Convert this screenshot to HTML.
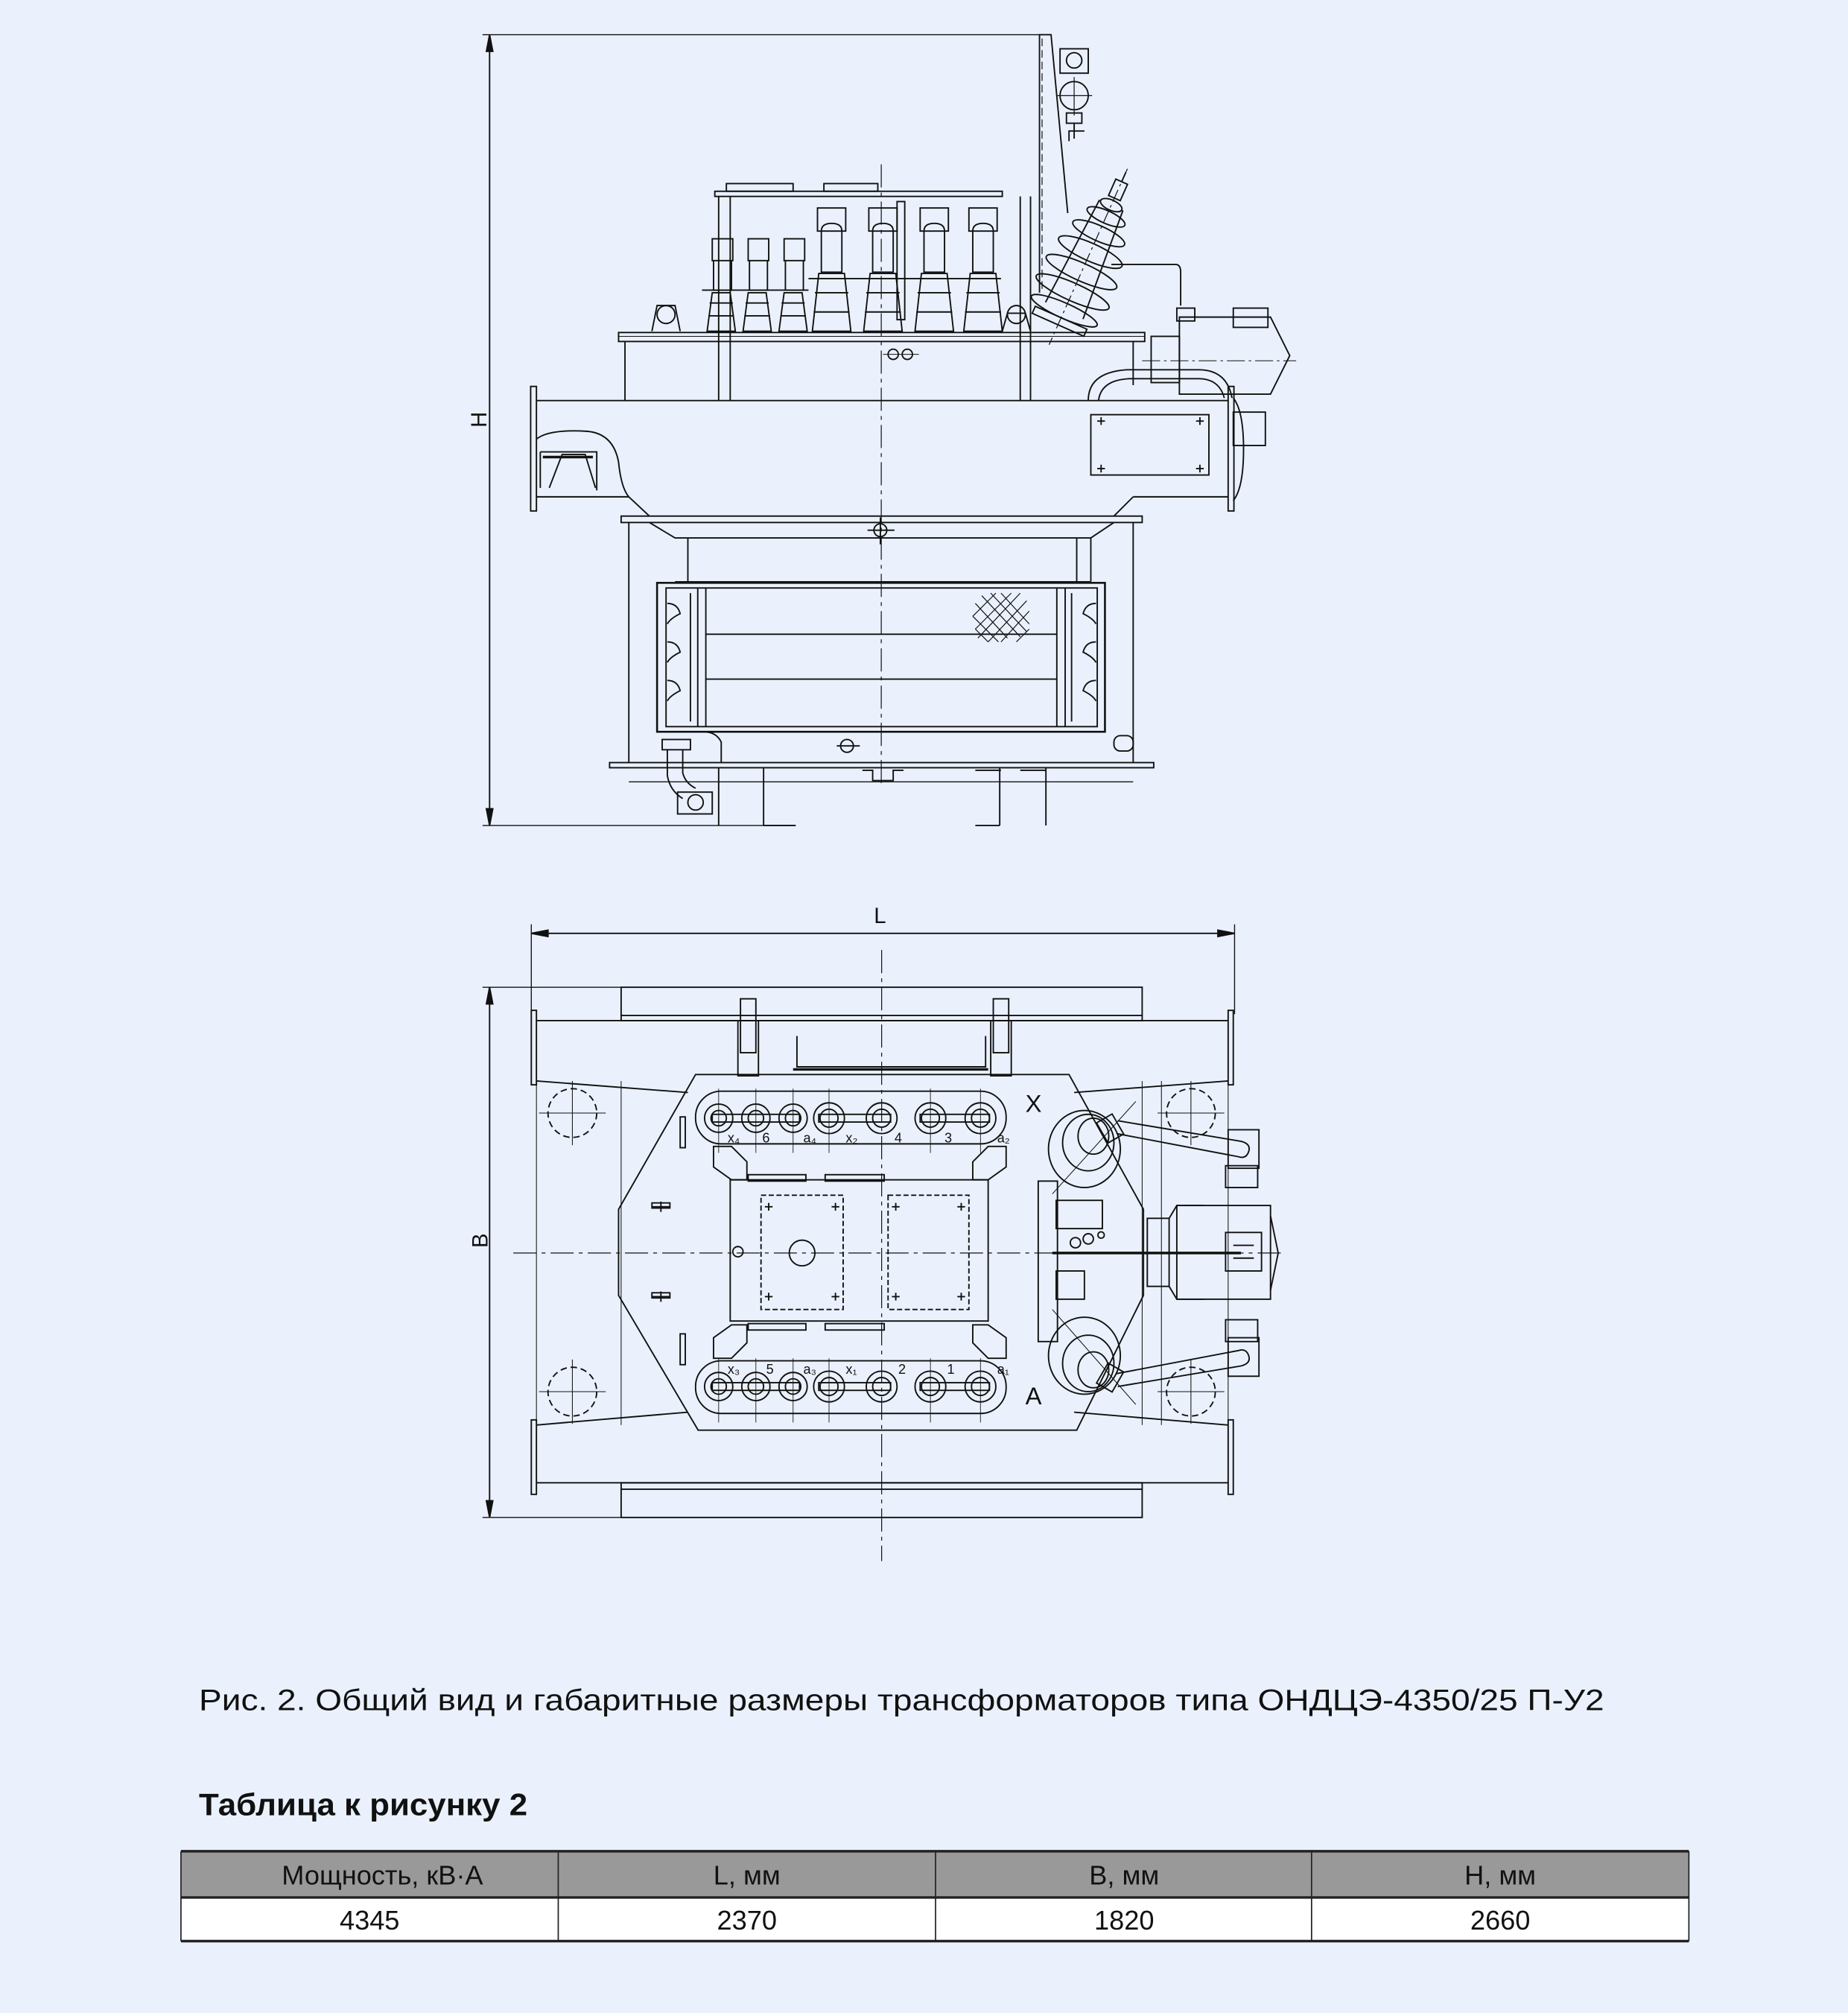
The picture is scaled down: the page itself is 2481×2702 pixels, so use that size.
<!DOCTYPE html>
<html><head><meta charset="utf-8"><style>
html,body{margin:0;padding:0;background:#eaf1fc;}
svg{display:block;}
text{font-family:"Liberation Sans",sans-serif;fill:#111;}
</style></head><body>
<svg width="2481" height="2702" viewBox="0 0 1440 1568" preserveAspectRatio="none" xmlns="http://www.w3.org/2000/svg">
<rect x="0" y="0" width="1440" height="1568" fill="#eaf1fc"/>
<g fill="none" stroke="#111" stroke-width="1.1">
<!-- ===== TOP VIEW ===== -->
<line x1="381.5" y1="27" x2="381.5" y2="643"/>
<polygon points="381.5,27 379,40 384,40" fill="#111"/>
<polygon points="381.5,643 379,630 384,630" fill="#111"/>
<line x1="376" y1="27" x2="810" y2="27" stroke-width="0.8"/>
<line x1="376" y1="643" x2="620" y2="643" stroke-width="0.8"/>
<line x1="686.7" y1="128" x2="686.7" y2="612" stroke-width="0.7" stroke-dasharray="18,4,3,4"/>
<!-- tall post -->
<polyline points="810,228 810,27 819,27 832,166"/>
<line x1="812" y1="30" x2="812" y2="225" stroke-dasharray="6,3" stroke-width="0.7"/>
<rect x="826" y="38" width="22" height="19"/>
<circle cx="837" cy="47" r="6"/>
<circle cx="837" cy="74.5" r="11"/>
<line x1="823" y1="74.5" x2="851" y2="74.5" stroke-width="0.7"/><line x1="837" y1="60" x2="837" y2="90" stroke-width="0.7"/>
<rect x="831" y="88" width="12" height="8"/><line x1="837" y1="96" x2="837" y2="108"/><polyline points="833,110 833,102 845,102"/>
<!-- cabinet frame -->
<rect x="557" y="149" width="224" height="4"/>
<rect x="566" y="143" width="52" height="6"/><rect x="642" y="143" width="42" height="6"/>
<line x1="560" y1="153" x2="560" y2="312"/><line x1="569" y1="153" x2="569" y2="312"/>
<line x1="795" y1="153" x2="795" y2="312"/><line x1="803" y1="153" x2="803" y2="312"/>
<!-- bushings small -->
<g>
<rect x="555" y="186" width="16" height="17"/><rect x="583" y="186" width="16" height="17"/><rect x="611" y="186" width="16" height="17"/>
<path d="M556,203 v23 h14 v-23"/><path d="M584,203 v23 h14 v-23"/><path d="M612,203 v23 h14 v-23"/>
<path d="M551,258 l4,-30 h14 l4,30z"/><path d="M579,258 l4,-30 h14 l4,30z"/><path d="M607,258 l4,-30 h14 l4,30z"/>
<line x1="553" y1="236" x2="571" y2="236"/><line x1="581" y1="236" x2="599" y2="236"/><line x1="609" y1="236" x2="627" y2="236"/>
<line x1="552" y1="246" x2="572" y2="246"/><line x1="580" y1="246" x2="600" y2="246"/><line x1="608" y1="246" x2="628" y2="246"/>
<line x1="547" y1="226" x2="630" y2="226"/>
</g>
<!-- bushings big -->
<g>
<rect x="637" y="162" width="22" height="18"/><rect x="677" y="162" width="22" height="18"/><rect x="717" y="162" width="22" height="18"/><rect x="755" y="162" width="22" height="18"/>
<path d="M640,180 q0,-6 8,-6 q8,0 8,6 v32 h-16z"/><path d="M680,180 q0,-6 8,-6 q8,0 8,6 v32 h-16z"/><path d="M720,180 q0,-6 8,-6 q8,0 8,6 v32 h-16z"/><path d="M758,180 q0,-6 8,-6 q8,0 8,6 v32 h-16z"/>
<path d="M633,258 l5,-45 h20 l5,45z"/><path d="M673,258 l5,-45 h20 l5,45z"/><path d="M713,258 l5,-45 h20 l5,45z"/><path d="M751,258 l5,-45 h20 l5,45z"/>
<line x1="635" y1="228" x2="661" y2="228"/><line x1="675" y1="228" x2="701" y2="228"/><line x1="715" y1="228" x2="741" y2="228"/><line x1="753" y1="228" x2="779" y2="228"/>
<line x1="634" y1="243" x2="662" y2="243"/><line x1="674" y1="243" x2="702" y2="243"/><line x1="714" y1="243" x2="742" y2="243"/><line x1="752" y1="243" x2="780" y2="243"/>
<line x1="630" y1="217" x2="780" y2="217"/>
<rect x="699" y="157" width="6" height="92"/>
</g>
<circle cx="519" cy="245" r="7"/><path d="M508,258 l4,-20 h14 l4,20"/>
<circle cx="792" cy="245" r="7"/><path d="M781,258 l4,-14 h14 l4,14"/>
<!-- big bushing (tilted) -->
<g transform="rotate(24 848 200)">
<rect x="843" y="136" width="10" height="14"/>
<line x1="848" y1="128" x2="848" y2="136"/>
<ellipse cx="848" cy="156" rx="9" ry="4"/>
<ellipse cx="848" cy="166" rx="16" ry="5"/>
<ellipse cx="848" cy="180" rx="22" ry="6"/>
<ellipse cx="848" cy="196" rx="27" ry="7"/>
<ellipse cx="848" cy="213" rx="30" ry="7"/>
<ellipse cx="848" cy="230" rx="31" ry="7"/>
<ellipse cx="848" cy="246" rx="28" ry="6"/>
<line x1="838" y1="156" x2="832" y2="246"/><line x1="858" y1="156" x2="864" y2="246"/>
<path d="M826,252 h44 v6 h-44z"/>
<line x1="848" y1="125" x2="848" y2="275" stroke-dasharray="10,3,2,3" stroke-width="0.7"/>
</g>
<path d="M866,206 h50 q4,0 4,6 v26"/>
<!-- cover plate and upper tank -->
<rect x="482" y="259" width="410" height="7"/>
<line x1="482" y1="262" x2="892" y2="262" stroke-width="0.6"/>
<line x1="487" y1="266" x2="487" y2="312"/><line x1="883" y1="266" x2="883" y2="300"/>
<circle cx="696" cy="276" r="4"/><circle cx="707" cy="276" r="4"/><line x1="688" y1="276" x2="716" y2="276" stroke-width="0.6"/>
<!-- motor -->
<rect x="897" y="262" width="22" height="36"/>
<path d="M919,247 h71 l15,30 l-15,30 h-71z"/>
<rect x="961" y="240" width="27" height="15"/>
<rect x="917" y="240" width="14" height="10"/>
<line x1="890" y1="281" x2="1010" y2="281" stroke-width="0.6" stroke-dasharray="14,3,2,3"/>
<path d="M848,312 q0,-22 30,-24 h56 q22,0 26,22" /><path d="M856,312 q2,-16 24,-17 h54 q16,0 20,15"/>
<!-- main beam -->
<rect x="413.5" y="301" width="4.5" height="97"/>
<rect x="957" y="301" width="4.5" height="97"/>
<line x1="418" y1="312" x2="957" y2="312"/>
<line x1="418" y1="387" x2="490" y2="387"/><line x1="883" y1="387" x2="957" y2="387"/>
<path d="M418,342 q10,-8 40,-6 q20,2 24,24 q2,20 8,27"/>
<path d="M421,352 h44 v30 M421,352 v28 M428,380 l10,-26 h18 l8,26"/>
<line x1="423" y1="356" x2="462" y2="356" stroke-width="2"/>
<rect x="850" y="323" width="92" height="47"/>
<path d="M855,328 h6 M858,325 v6 M932,328 h6 M935,325 v6 M855,365 h6 M858,362 v6 M932,365 h6 M935,362 v6"/>
<rect x="961" y="321" width="25" height="26"/>
<path d="M961,310 q8,10 8,40 q0,30 -8,40"/>
<line x1="490" y1="387" x2="506" y2="402"/><line x1="883" y1="387" x2="868" y2="402"/>
<rect x="484" y="402" width="406" height="5"/>
<polyline points="506,407 526,419 850,419 868,407"/>
<circle cx="686" cy="413" r="5"/><line x1="676" y1="413" x2="697" y2="413"/><line x1="686" y1="403" x2="686" y2="424"/>
<line x1="490" y1="407" x2="490" y2="594"/><line x1="883" y1="407" x2="883" y2="594"/>
<line x1="536" y1="419" x2="536" y2="453"/><line x1="839" y1="419" x2="839" y2="453"/><line x1="850" y1="419" x2="850" y2="453"/>
<line x1="526" y1="453" x2="850" y2="453" stroke-width="0.7"/>
<!-- cooler -->
<rect x="512" y="454" width="349" height="116" stroke-width="1.5"/>
<rect x="519" y="458" width="336" height="108"/>
<line x1="543.7" y1="458" x2="543.7" y2="566"/><line x1="550" y1="458" x2="550" y2="566"/>
<line x1="823.5" y1="458" x2="823.5" y2="566"/><line x1="830" y1="458" x2="830" y2="566"/>
<line x1="550" y1="494" x2="823" y2="494"/><line x1="550" y1="529" x2="823" y2="529"/>
<path d="M520,470 q8,0 10,8 q-8,4 -10,8 M520,500 q8,0 10,8 q-8,4 -10,8 M520,530 q8,0 10,8 q-8,4 -10,8 M538,462 v100"/>
<path d="M854,470 q-8,0 -10,8 q8,4 10,8 M854,500 q-8,0 -10,8 q8,4 10,8 M854,530 q-8,0 -10,8 q8,4 10,8 M835,462 v100"/>
<g stroke-width="0.7">
<path d="M760,470 l25,27 M765,464 l30,32 M772,462 l28,30 M780,462 l22,24 M758,480 l20,20 M760,490 l10,10"/>
<path d="M760,490 l28,-28 M762,497 l33,-35 M770,500 l30,-32 M780,500 l22,-24 M758,480 l18,-18 M792,500 l10,-10"/>
</g>
<rect x="475" y="594" width="424" height="4"/>
<line x1="490" y1="609" x2="883" y2="609" stroke-width="0.8"/>
<line x1="560" y1="598" x2="560" y2="643"/><line x1="595" y1="598" x2="595" y2="643"/><line x1="595" y1="643" x2="620" y2="643"/>
<line x1="779" y1="598" x2="779" y2="643"/><line x1="815" y1="598" x2="815" y2="643"/><line x1="760" y1="643" x2="779" y2="643"/>
<path d="M672,600 h8 v8 h16 v-8 h8" /><path d="M760,600 h20 M795,600 h20"/>
<circle cx="660" cy="581" r="5"/><line x1="652" y1="581" x2="670" y2="581"/>
<rect x="868" y="573" width="15" height="12" rx="5"/>
<rect x="516" y="576" width="22" height="8"/>
<path d="M520,584 v20 q2,12 12,18 M532,584 v18 q2,8 10,12"/>
<rect x="528" y="617" width="27" height="17"/><circle cx="542" cy="625" r="6"/>
<path d="M548,570 q10,0 14,8 v16"/>
<!-- ===== BOTTOM VIEW ===== -->
<line x1="414" y1="727" x2="962" y2="727"/>
<polygon points="414,727 427,724.5 427,729.5" fill="#111"/>
<polygon points="962,727 949,724.5 949,729.5" fill="#111"/>
<line x1="414" y1="720" x2="414" y2="790" stroke-width="0.8"/><line x1="962" y1="720" x2="962" y2="790" stroke-width="0.8"/>
<line x1="381.5" y1="769" x2="381.5" y2="1182"/>
<polygon points="381.5,769 379,782 384,782" fill="#111"/>
<polygon points="381.5,1182 379,1169 384,1169" fill="#111"/>
<line x1="376" y1="769" x2="484" y2="769" stroke-width="0.8"/><line x1="376" y1="1182" x2="484" y2="1182" stroke-width="0.8"/>
<rect x="484" y="769" width="406" height="26"/><line x1="484" y1="791" x2="890" y2="791"/>
<rect x="484" y="1155" width="406" height="27"/><line x1="484" y1="1160" x2="890" y2="1160"/>
<rect x="414" y="787" width="4" height="58"/><rect x="957" y="787" width="4" height="58"/>
<rect x="414" y="1106" width="4" height="58"/><rect x="957" y="1106" width="4" height="58"/>
<line x1="418" y1="795" x2="957" y2="795"/><line x1="418" y1="1155" x2="957" y2="1155"/>
<line x1="418" y1="842" x2="536" y2="851"/><line x1="957" y1="842" x2="837" y2="851"/>
<line x1="418" y1="1110" x2="536" y2="1100"/><line x1="957" y1="1110" x2="837" y2="1100"/>
<line x1="418" y1="842" x2="418" y2="1110" stroke-width="0.6"/><line x1="484" y1="842" x2="484" y2="1110" stroke-width="0.6"/>
<line x1="957" y1="842" x2="957" y2="1110" stroke-width="0.6"/><line x1="890" y1="842" x2="890" y2="1110" stroke-width="0.6"/><line x1="905" y1="842" x2="905" y2="1110" stroke-width="0.6"/>
<g stroke-dasharray="5,3">
<circle cx="446" cy="867" r="19"/><circle cx="446" cy="1084" r="19"/>
<circle cx="928" cy="867" r="19"/><circle cx="928" cy="1084" r="19"/>
</g>
<path d="M420,867 h52 M446,842 v50 M420,1084 h52 M446,1059 v50 M902,867 h52 M928,842 v50 M902,1084 h52 M928,1059 v50" stroke-width="0.6"/>
<rect x="577" y="778" width="12" height="42"/><rect x="774" y="778" width="12" height="42"/>
<rect x="575" y="795" width="16" height="43"/><rect x="772" y="795" width="16" height="43"/>
<polyline points="621,807 621,831 768,831 768,807"/>
<line x1="618" y1="833" x2="770" y2="833" stroke-width="2"/>
<polygon points="542,837 833,837 891,942 891,1009 839,1114 544,1114 482,1009 482,942"/>
<line x1="687" y1="740" x2="687" y2="1216" stroke-width="0.7" stroke-dasharray="18,4,3,4"/>
<line x1="400" y1="976" x2="1000" y2="976" stroke-width="0.7" stroke-dasharray="18,4,3,4"/>
<rect x="542" y="850" width="242" height="41" rx="20"/>
<rect x="542" y="1060" width="242" height="41" rx="20"/>
<g>
<circle cx="560" cy="871" r="11"/><circle cx="589" cy="871" r="11"/><circle cx="618" cy="871" r="11"/><circle cx="646" cy="871" r="12"/><circle cx="687" cy="871" r="12"/><circle cx="725" cy="871" r="12"/><circle cx="764" cy="871" r="12"/>
<circle cx="560" cy="871" r="6"/><circle cx="589" cy="871" r="6"/><circle cx="618" cy="871" r="6"/><circle cx="646" cy="871" r="7"/><circle cx="687" cy="871" r="7"/><circle cx="725" cy="871" r="7"/><circle cx="764" cy="871" r="7"/>
<rect x="555" y="868" width="68" height="6"/><rect x="638" y="868" width="56" height="6"/><rect x="717" y="868" width="54" height="6"/>
<circle cx="560" cy="1080" r="11"/><circle cx="589" cy="1080" r="11"/><circle cx="618" cy="1080" r="11"/><circle cx="646" cy="1080" r="12"/><circle cx="687" cy="1080" r="12"/><circle cx="725" cy="1080" r="12"/><circle cx="764" cy="1080" r="12"/>
<circle cx="560" cy="1080" r="6"/><circle cx="589" cy="1080" r="6"/><circle cx="618" cy="1080" r="6"/><circle cx="646" cy="1080" r="7"/><circle cx="687" cy="1080" r="7"/><circle cx="725" cy="1080" r="7"/><circle cx="764" cy="1080" r="7"/>
<rect x="555" y="1077" width="68" height="6"/><rect x="638" y="1077" width="56" height="6"/><rect x="717" y="1077" width="54" height="6"/>
</g>
<path d="M560,848 v50 M589,848 v50 M618,848 v50 M646,848 v50 M725,848 v50 M764,848 v50 M560,1058 v50 M589,1058 v50 M618,1058 v50 M646,1058 v50 M725,1058 v50 M764,1058 v50" stroke-width="0.5"/>
<path d="M556,893 h14 l12,12 v14 h-12 l-14,-10z M784,893 h-14 l-12,12 v14 h12 l14,-10z"/>
<path d="M556,1058 h14 l12,-12 v-14 h-12 l-14,10z M784,1058 h-14 l-12,-12 v-14 h12 l14,10z"/>
<rect x="569" y="919" width="201" height="110"/>
<rect x="583" y="915" width="45" height="5"/><rect x="643" y="915" width="46" height="5"/>
<rect x="583" y="1031" width="45" height="5"/><rect x="643" y="1031" width="46" height="5"/>
<rect x="593" y="931" width="64" height="89" stroke-dasharray="4,2"/>
<rect x="692" y="931" width="63" height="89" stroke-dasharray="4,2"/>
<circle cx="625" cy="976" r="10"/>
<path d="M596,940 h6 M599,937 v6 M648,940 h6 M651,937 v6 M596,1010 h6 M599,1007 v6 M648,1010 h6 M651,1007 v6 M695,940 h6 M698,937 v6 M746,940 h6 M749,937 v6 M695,1010 h6 M698,1007 v6 M746,1010 h6 M749,1007 v6"/>
<circle cx="575" cy="975" r="4"/>
<path d="M508,940 h14 M515,936 v8 M508,1010 h14 M515,1006 v8" />
<rect x="508" y="937" width="14" height="4"/><rect x="508" y="1007" width="14" height="4"/>
<rect x="530" y="870" width="4" height="24"/><rect x="530" y="1039" width="4" height="24"/>
<rect x="809" y="920" width="15" height="125"/>
<rect x="823" y="935" width="36" height="22"/><rect x="823" y="990" width="22" height="22"/>
<circle cx="848" cy="965" r="4"/><circle cx="838" cy="968" r="4"/><circle cx="858" cy="962" r="2.5"/>
<rect x="894" y="949" width="17" height="53"/>
<path d="M911,949 l6,-10 h21 M911,1002 l6,10 h21"/>
<rect x="917" y="939" width="73" height="73"/>
<path d="M990,947 l6,29 l-6,29"/>
<rect x="955" y="960" width="28" height="30"/>
<line x1="961" y1="970" x2="977" y2="970"/><line x1="961" y1="980" x2="977" y2="980"/>
<line x1="820" y1="976" x2="967" y2="976" stroke-width="2"/>
<rect x="955" y="908" width="25" height="17"/><rect x="955" y="1028" width="25" height="17"/>
<rect x="957" y="880" width="24" height="30"/><rect x="957" y="1042" width="24" height="30"/>
<g>
<ellipse cx="845" cy="895" rx="28" ry="30"/><ellipse cx="848" cy="890" rx="20" ry="22"/><ellipse cx="852" cy="885" rx="12" ry="14"/>
<rect x="858" y="870" width="14" height="18" transform="rotate(-30 865 879)"/>
<line x1="820" y1="930" x2="885" y2="858" stroke-width="0.6"/>
<ellipse cx="845" cy="1056" rx="28" ry="30"/><ellipse cx="848" cy="1062" rx="20" ry="22"/><ellipse cx="852" cy="1067" rx="12" ry="14"/>
<rect x="858" y="1064" width="14" height="18" transform="rotate(30 865 1073)"/>
<line x1="820" y1="1020" x2="885" y2="1094" stroke-width="0.6"/>
</g>
<path d="M871,873 l96,16 q8,2 6,8 q-2,6 -8,4 l-95,-18"/>
<path d="M871,1080 l96,-16 q8,-2 6,-8 q-2,-6 -8,-4 l-95,18"/>
</g>
<g font-size="15">
<text x="374" y="338" transform="rotate(-90 374 333)" font-size="17">H</text>
<text x="681" y="719" font-size="17">L</text>
<text x="374" y="978" transform="rotate(-90 374 972)" font-size="17">B</text>
<text x="799" y="866" font-size="19">X</text>
<text x="799" y="1094" font-size="19">A</text>
</g>
<g font-size="10.5">
<text x="567" y="890">x₄</text><text x="594" y="890">6</text><text x="626" y="890">a₄</text><text x="659" y="890">x₂</text><text x="697" y="890">4</text><text x="736" y="890">3</text><text x="777" y="890">a₂</text>
<text x="567" y="1070">x₃</text><text x="597" y="1070">5</text><text x="626" y="1070">a₃</text><text x="659" y="1070">x₁</text><text x="700" y="1070">2</text><text x="738" y="1070">1</text><text x="777" y="1070">a₁</text>
</g>
<text x="155" y="1332" font-size="23" textLength="1095" lengthAdjust="spacingAndGlyphs">Рис. 2.  Общий вид и габаритные размеры трансформаторов  типа  ОНДЦЭ-4350/25 П-У2</text>
<text x="155" y="1414" font-size="24" font-weight="bold" textLength="256" lengthAdjust="spacingAndGlyphs">Таблица к рисунку 2</text>
<rect x="141" y="1442" width="1175" height="36" fill="#999"/>
<rect x="141" y="1478" width="1175" height="34" fill="#fff"/>
<g stroke="#222" fill="none">
<line x1="141" y1="1442" x2="1316" y2="1442" stroke-width="2"/>
<line x1="141" y1="1478" x2="1316" y2="1478" stroke-width="2"/>
<line x1="141" y1="1512" x2="1316" y2="1512" stroke-width="2"/>
<line x1="141" y1="1442" x2="141" y2="1512" stroke-width="1"/>
<line x1="435" y1="1442" x2="435" y2="1512" stroke-width="1"/>
<line x1="729" y1="1442" x2="729" y2="1512" stroke-width="1"/>
<line x1="1022" y1="1442" x2="1022" y2="1512" stroke-width="1"/>
<line x1="1316" y1="1442" x2="1316" y2="1512" stroke-width="1"/>
</g>
<g font-size="21" text-anchor="middle">
<text x="298" y="1468">Мощность, кВ·А</text>
<text x="582" y="1468">L, мм</text>
<text x="876" y="1468">B, мм</text>
<text x="1169" y="1468">H, мм</text>
<text x="288" y="1503">4345</text>
<text x="582" y="1503">2370</text>
<text x="876" y="1503">1820</text>
<text x="1169" y="1503">2660</text>
</g>
</svg>
</body></html>
